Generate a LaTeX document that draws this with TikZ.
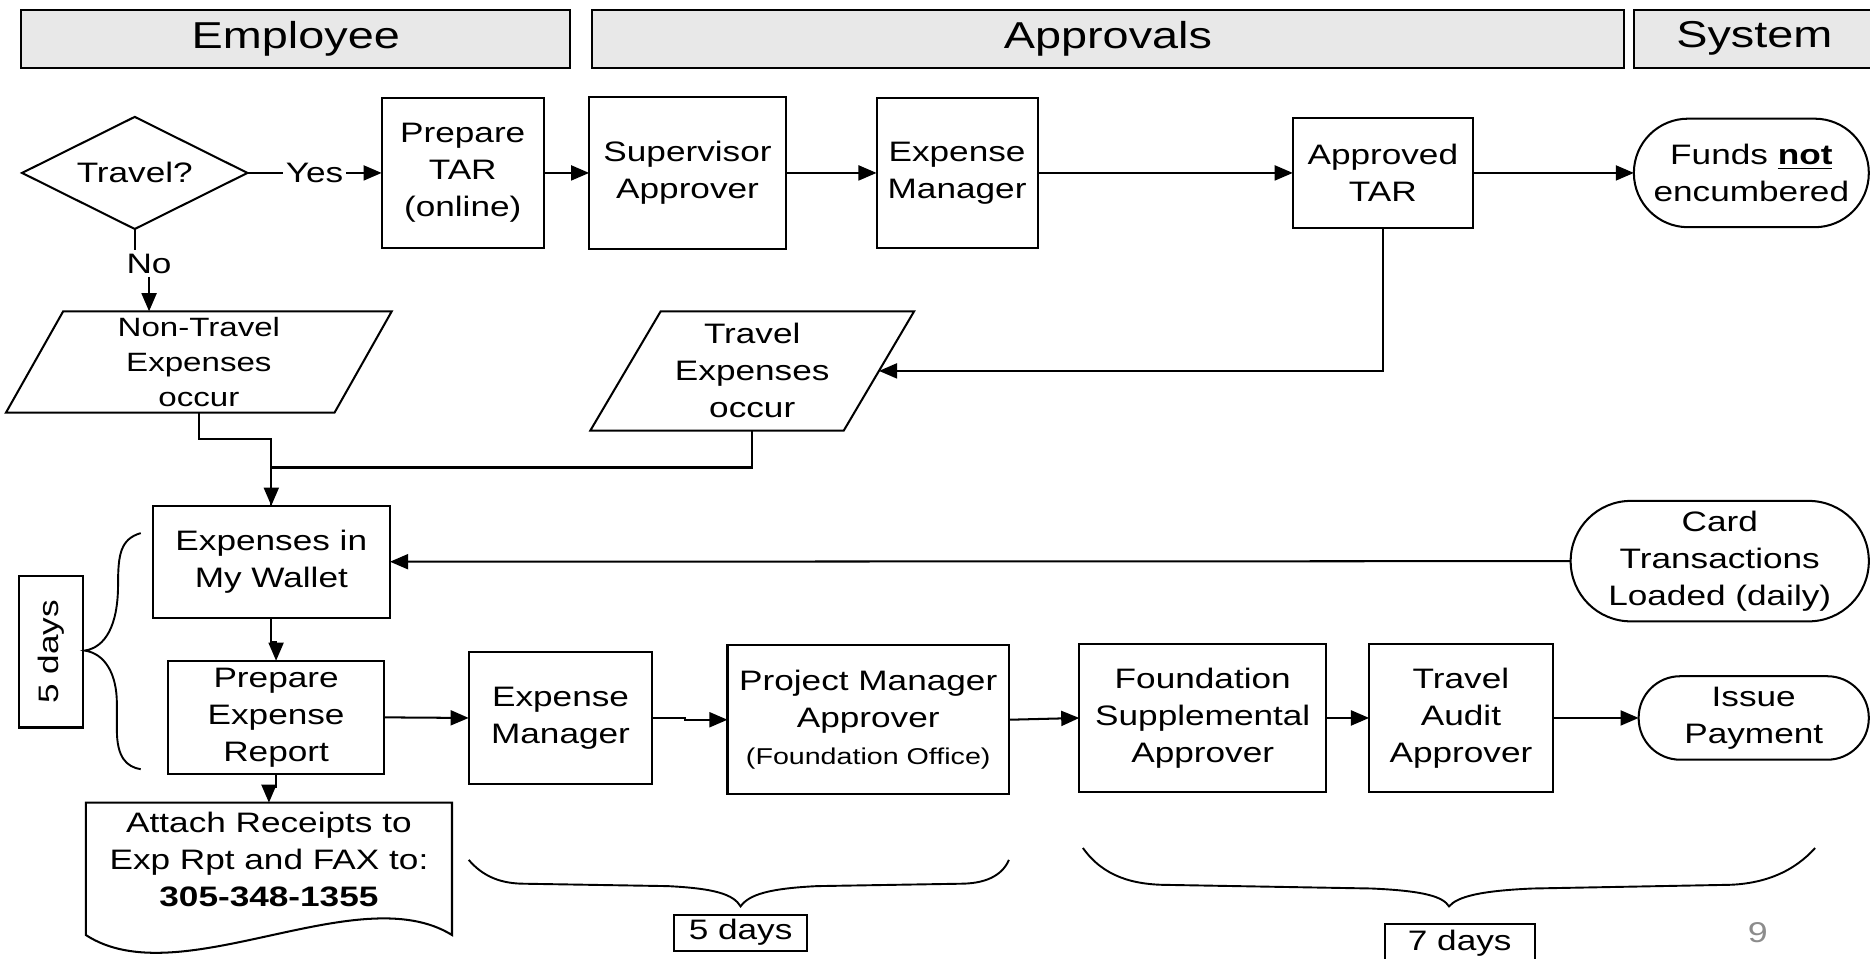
\documentclass[tikz,border=0pt]{standalone}
\usepackage{fontspec}
\setmainfont{Liberation Sans}[FakeStretch=1.25]
\usetikzlibrary{arrows.meta,shapes.geometric}
\definecolor{hdrfill}{RGB}{232,232,232}
\definecolor{pgnum}{RGB}{140,140,140}
\begin{document}
\begin{tikzpicture}[x=0.5pt,y=-0.5pt,
  line width=0.85pt,
  base/.style={inner sep=0pt, outer sep=0pt, align=center, font=\fontsize{11.8}{15.5}\selectfont},
  pbox/.style={base, draw, rectangle},
  txt/.style={base},
  hdr/.style={base, draw, fill=hdrfill, minimum height=24.5pt, font=\fontsize{15.7}{18}\selectfont},
  arr/.style={-{Triangle[length=7.6pt,width=6.3pt]}},
  brace/.style={line width=0.8pt},
]
\useasboundingbox (0,0) rectangle (1568,804);
\clip (0,0) rectangle (1568,804);

% headers
\node[hdr, minimum width=230pt] (hemp) at (248,32.5) {Employee};
\node[hdr, minimum width=433pt] (happ) at (929,32.5) {Approvals};
\node[hdr, minimum width=101pt] (hsys) at (1471,32.5) {System};

% top row
\node[base, draw, diamond, aspect=2, minimum width=94.5pt, minimum height=47pt] (dia) at (113,145) {Travel?};
\node[pbox, minimum width=68pt, minimum height=63pt] (ptar) at (388,145) {Prepare\\TAR\\(online)};
\node[pbox, minimum width=82.5pt, minimum height=63.5pt] (sup) at (576.5,145) {Supervisor\\Approver};
\node[pbox, minimum width=67.5pt, minimum height=63pt] (em1) at (802.5,145) {Expense\\Manager};
\node[pbox, minimum width=75.5pt, minimum height=46pt] (atar) at (1159.5,145) {Approved\\TAR};
\node[txt, minimum width=98.5pt, minimum height=45.5pt] (funds) at (1468.5,145) {Funds \underline{\textbf{not}}\\encumbered};
\draw[rounded corners=22.7pt] (funds.north west) rectangle (funds.south east);

% parallelograms
\node[txt, minimum width=106.25pt, minimum height=50pt] (te) at (630.75,311) {Travel\\Expenses\\occur};
\draw ([xshift=14.75pt]te.north west) -- ([xshift=14.75pt]te.north east) -- ([xshift=-14.75pt]te.south east) -- ([xshift=-14.75pt]te.south west) -- cycle;
\node[txt, minimum width=137.75pt, minimum height=42.5pt, font=\fontsize{11.1}{14.7}\selectfont] (nt) at (166.75,303.5) {Non-Travel\\Expenses\\occur};
\draw ([xshift=12pt]nt.north west) -- ([xshift=12pt]nt.north east) -- ([xshift=-12pt]nt.south east) -- ([xshift=-12pt]nt.south west) -- cycle;

\node[txt, fill=white, inner sep=1.5pt] (no) at (125,221) {No};

% middle
\node[pbox, minimum width=99.5pt, minimum height=47pt] (wal) at (227.5,471) {Expenses in\\My Wallet};
\node[txt, minimum width=125pt, minimum height=50.5pt] (card) at (1442,470.5) {Card\\Transactions\\Loaded (daily)};
\draw[rounded corners=25.2pt] (card.north west) rectangle (card.south east);

% bottom row
\node[pbox, minimum width=90.5pt, minimum height=47.5pt] (per) at (231.5,601.5) {Prepare\\Expense\\Report};
\node[txt, minimum width=153.5pt, minimum height=48pt] (doc) at (225.5,721) {Attach Receipts to\\Exp Rpt and FAX to:\\\textbf{305-348-1355}};
\draw (doc.north west) -- (doc.north east) -- ([yshift=-7.5pt]doc.south east) .. controls (300,735) and (150,835) .. ([yshift=-7.5pt]doc.south west) -- cycle;
\node[pbox, minimum width=77pt, minimum height=55pt] (em2) at (470,602) {Expense\\Manager};
\node[pbox, minimum width=118pt, minimum height=62.5pt] (pm) at (728,603.5) {Project Manager\\Approver\\{\fontsize{9.6}{12}\selectfont (Foundation Office)}};
\node[pbox, minimum width=103.5pt, minimum height=62pt] (fsa) at (1008.5,602) {Foundation\\Supplemental\\Approver};
\node[pbox, minimum width=77pt, minimum height=62pt] (taa) at (1225,602) {Travel\\Audit\\Approver};
\node[txt, minimum width=96.5pt, minimum height=35pt] (iss) at (1470.5,602) {Issue\\Payment};
\draw[rounded corners=17.4pt] (iss.north west) rectangle (iss.south east);

% day boxes
\node[pbox, minimum width=63.5pt, minimum height=27pt, rotate=90] (lb) at (43,546.5) {5 days};
\node[pbox, minimum width=56pt, minimum height=15pt] (b5) at (621,782) {5 days};
\node[pbox, minimum width=63pt, minimum height=15.5pt] (b7) at (1224,790.5) {7 days};
\node[txt, text=pgnum, font=\fontsize{12}{14}\selectfont] (pg) at (1474,782) {9};

% braces
\draw[brace] (118,447) .. controls (101,452) and (99,465) .. (99,490) .. controls (99,525) and (88,543) .. (71,545.5) .. controls (88,548) and (98,565) .. (98,590) -- (98,612) .. controls (98,635) and (106,643) .. (118,645);
\draw[brace] (393,721) .. controls (405,735) and (420,741) .. (440,741) -- (560,743) .. controls (600,745) and (615,750) .. (621,760) .. controls (628,750) and (645,745) .. (685,743) -- (805,741) .. controls (825,741) and (840,735) .. (846,721);
\draw[brace] (908,711) .. controls (925,735) and (950,742) .. (980,742) -- (1150,745) .. controls (1195,747) and (1210,752) .. (1215,760) .. controls (1222,752) and (1240,747) .. (1285,745) -- (1445,742) .. controls (1480,742) and (1505,730) .. (1522,711);

% connectors
\draw[arr] (dia.east) -- node[txt, fill=white, inner sep=1pt] {Yes} (ptar.west);
\draw (dia.south) -- (dia.south |- no.north);
\draw[arr] (no.south) -- (no.south |- nt.north);
\draw[arr] (ptar.east) -- (sup.west);
\draw[arr] (sup.east) -- (em1.west);
\draw[arr] (em1.east) -- (atar.west);
\draw[arr] (atar.east) -- (funds.west);
\draw[arr] (atar.south) |- (te.east);
\draw[arr] (nt.south) -- ++(0,22) -| (wal.north);
\draw (te.south) -- ++(0,31) -| (wal.north);
\draw[arr] (card.west) -- (wal.east);
\draw[arr] (wal.south) -- ++(0,20) -| (per.north);
\draw[arr] (per.south) -- ++(0,11) -| (doc.north);
\draw[arr] (per.east) -- (em2.west);
\draw[arr] (em2.east) -- ++(27,0) |- (pm.west);
\draw[arr] (pm.east) -- (fsa.west);
\draw[arr] (fsa.east) -- (taa.west);
\draw[arr] (taa.east) -- (iss.west);
\end{tikzpicture}
\end{document}
